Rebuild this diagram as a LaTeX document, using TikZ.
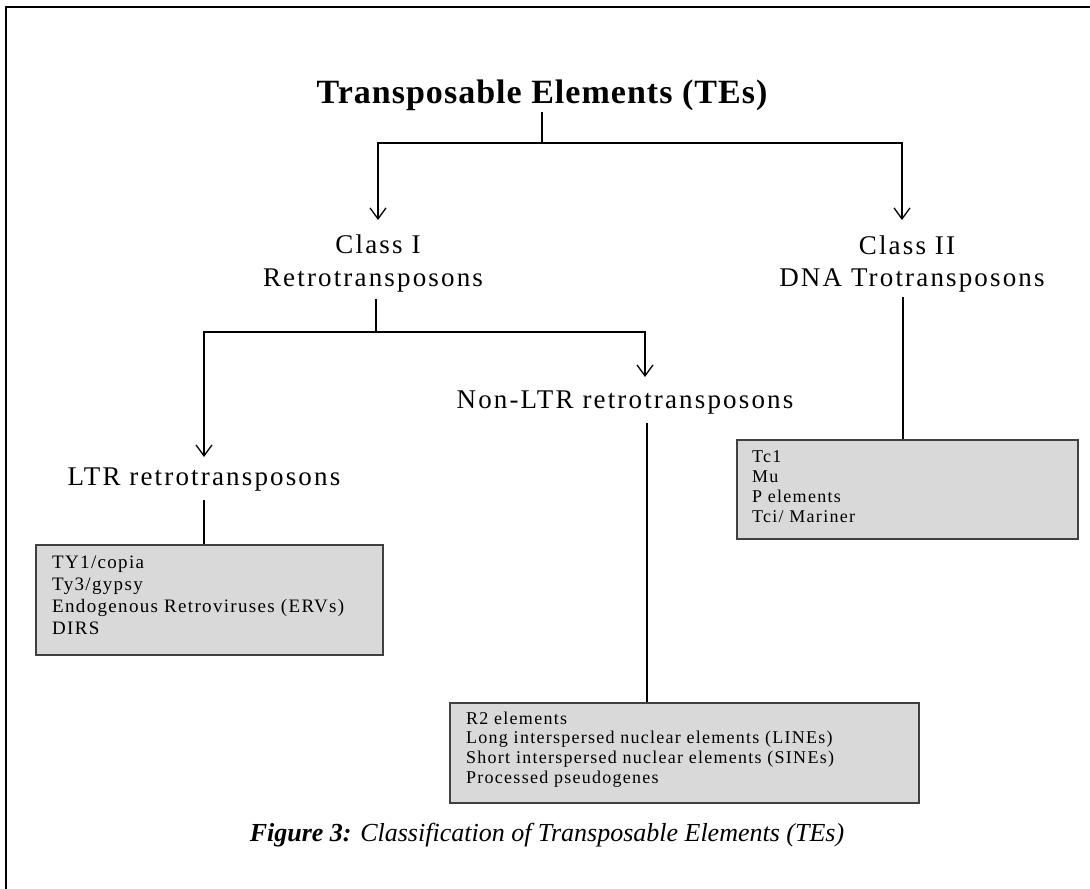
\documentclass[tikz,border=0pt]{standalone}
\usepackage{fontspec}
\setmainfont{Liberation Serif}
\newfontfamily\wsf[LetterSpace=8]{Liberation Serif}
\newfontfamily\wsl[LetterSpace=7]{Liberation Serif}
\newfontfamily\wst[LetterSpace=3]{Liberation Serif}
\usetikzlibrary{arrows.meta}
\definecolor{boxfill}{HTML}{D9D9D9}
\definecolor{boxline}{HTML}{404040}
\tikzset{
  ln/.style={line width=1.3pt, black},
  arr/.style={ln, -{Straight Barb[length=11pt,width=16pt,line width=1.3pt]}},
  titlef/.style={font=\wst\fontsize{34}{40}\selectfont\bfseries, inner sep=0pt},
  lbl/.style={font=\wsf\fontsize{27}{31}\selectfont, inner sep=0pt},
  listbox/.style={draw=boxline, fill=boxfill, line width=1.6pt, inner sep=0pt, anchor=north west},
  listtxt/.style={font=\wsl\fontsize{19}{22}\selectfont, inner sep=0pt, anchor=base west},
  listtxtb/.style={font=\wsl\fontsize{18}{19.7}\selectfont, inner sep=0pt, anchor=base west},
  listtxtc/.style={font=\wsl\fontsize{18}{20.3}\selectfont, inner sep=0pt, anchor=base west},
  captxt/.style={font=\fontsize{26}{30}\selectfont\itshape, inner sep=0pt},
  frm/.style={line width=2.5pt, black}
}
\begin{document}
\begin{tikzpicture}[x=1pt,y=-1pt]
\useasboundingbox (0,0) rectangle (1090,889);
\draw[frm] (6,889) -- (6,7) -- (1090,7);

% title and classes
\node[titlef, anchor=base] (te) at (542,103) {Transposable Elements (TEs)};
\node[lbl, anchor=base] (c1a) at (378,253) {Class I};
\node[lbl, anchor=base] (c1b) at (373,286) {Retrotransposons};
\node[lbl, anchor=base] (c2a) at (907,254) {Class II};
\node[lbl, anchor=base] (c2b) at (912,286) {DNA Trotransposons};
\node[lbl, anchor=base] (ltr) at (204,485) {LTR retrotransposons};
\node[lbl, anchor=base] (nltr) at (625,408) {Non-LTR retrotransposons};

% boxes
\node[listbox, minimum width=347pt, minimum height=110pt] (b1) at (35,544) {};
\node[listtxt] (t1) at (52,568) {\begin{tabular}[t]{@{}l@{}}TY1/copia\\Ty3/gypsy\\Endogenous Retroviruses (ERVs)\\DIRS\end{tabular}};

\node[listbox, minimum width=469pt, minimum height=100pt] (b2) at (449,702) {};
\node[listtxtb] (t2) at (466,724) {\begin{tabular}[t]{@{}l@{}}R2 elements\\Long interspersed nuclear elements (LINEs)\\Short interspersed nuclear elements (SINEs)\\Processed pseudogenes\end{tabular}};

\node[listbox, minimum width=341pt, minimum height=99pt] (b3) at (736,439) {};
\node[listtxtc] (t3) at (752,462) {\begin{tabular}[t]{@{}l@{}}Tc1\\Mu\\P elements\\Tci/ Mariner\end{tabular}};

% junction and tip coordinates
\coordinate (j0) at (542,143);
\coordinate (a1) at (378,220);
\coordinate (a2) at (902,220);
\coordinate (j1) at (376,332);
\coordinate (a3) at (204,457);
\coordinate (a4) at (645,377);
\coordinate (s1) at (204,544);
\coordinate (s2) at (647,702);
\coordinate (s3) at (903,439);

% connectors
\draw[ln, shorten <=2pt] (te.south) -- (j0);
\draw[arr] (j0) -| (a1);
\draw[arr] (j0) -| (a2);
\draw[ln, shorten <=7pt] (c1b.south -| j1) -- (j1);
\draw[arr] (j1) -| (a3);
\draw[arr] (j1) -| (a4);
\draw[ln, shorten <=9pt] (s1 |- ltr.south) -- (s1);
\draw[ln, shorten <=9pt] (s2 |- nltr.south) -- (s2);
\draw[ln, shorten <=5pt] (s3 |- c2b.south) -- (s3);

% caption
\node[captxt, anchor=base] (capt) at (547,841) {\textbf{Figure 3:} Classification of Transposable Elements (TEs)};
\end{tikzpicture}
\end{document}
